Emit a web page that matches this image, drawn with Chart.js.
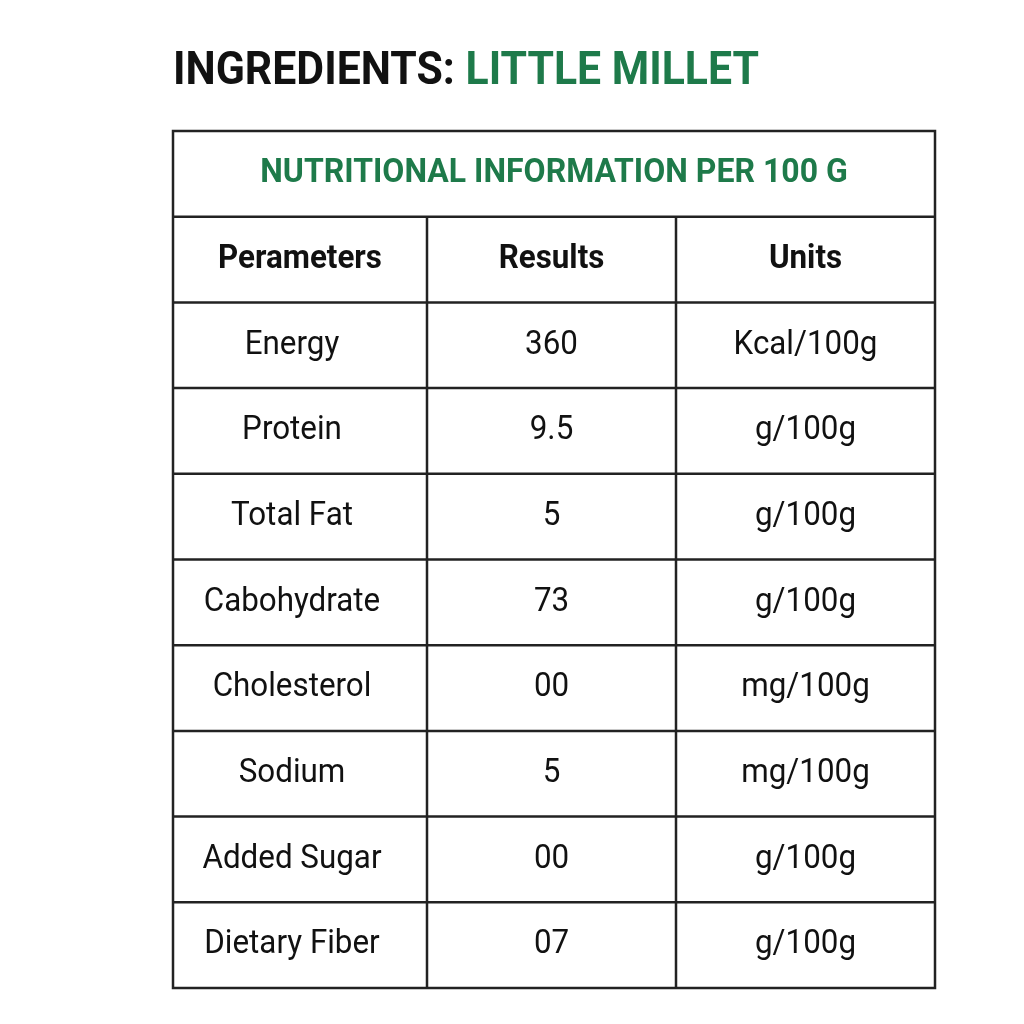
<!DOCTYPE html>
<html><head><meta charset="utf-8">
<script src="https://cdn.jsdelivr.net/npm/chart.js@4.4.0/dist/chart.umd.min.js"></script>
<style>html,body{margin:0;padding:0;background:#fff}canvas{display:block}</style>
</head><body>
<div style="width:1024px;height:1024px"><canvas id="c"></canvas></div>
<script>
const headingBlack = "INGREDIENTS:";
const headingGreen = "LITTLE MILLET";
const tableTitle = "NUTRITIONAL INFORMATION PER 100 G";
const columns = ["Perameters", "Results", "Units"];
const parameters = ["Energy","Protein","Total Fat","Cabohydrate","Cholesterol","Sodium","Added Sugar","Dietary Fiber"];
const results = ["360","9.5","5","73","00","5","00","07"];
const units = ["Kcal/100g","g/100g","g/100g","g/100g","mg/100g","mg/100g","g/100g","g/100g"];
const colEdges = [0, 254, 503, 762];
const GREEN = "#1e7a4a";
const FONT = "'Liberation Sans Narrow', 'Roboto', sans-serif";

function narrowText(ctx, t, x, y, s) {
  ctx.save(); ctx.translate(x, y); ctx.scale(s, 1); ctx.fillText(t, 0, 0); ctx.restore();
}

const tablePlugin = {
  id: 'table',
  afterDraw(chart) {
    const ctx = chart.ctx, xs = chart.scales.x, ys = chart.scales.y;
    const X = v => xs.getPixelForValue(v), Y = v => ys.getPixelForValue(v);
    ctx.save();
    ctx.textBaseline = 'middle'; ctx.textAlign = 'left';
    ctx.font = "bold 46px " + FONT;
    const s = 0.93;
    ctx.fillStyle = "#111";
    narrowText(ctx, headingBlack, X(0), 72, s);
    const w = ctx.measureText(headingBlack + " ").width * s;
    ctx.fillStyle = GREEN;
    narrowText(ctx, headingGreen, X(0) + w, 72, s);
    ctx.strokeStyle = "#222"; ctx.lineWidth = 2.5;
    ctx.strokeRect(X(0), Y(0), X(762) - X(0), Y(10) - Y(0));
    for (let r = 1; r < 10; r++) {
      ctx.beginPath(); ctx.moveTo(X(0), Y(r)); ctx.lineTo(X(762), Y(r)); ctx.stroke();
    }
    for (let c = 1; c < 3; c++) {
      ctx.beginPath(); ctx.moveTo(X(colEdges[c]), Y(1)); ctx.lineTo(X(colEdges[c]), Y(10)); ctx.stroke();
    }
    ctx.textAlign = 'center';
    ctx.fillStyle = GREEN; ctx.font = "bold 33px " + FONT;
    narrowText(ctx, tableTitle, X(381), Y(0.5), 0.97);
    ctx.fillStyle = "#111"; ctx.font = "bold 33px " + FONT;
    columns.forEach((t, c) => narrowText(ctx, t, X((colEdges[c] + colEdges[c+1]) / 2), Y(1.5), 0.95));
    ctx.font = "33px " + FONT;
    const cols = [parameters, results, units];
    cols.forEach((arr, c) => arr.forEach((t, i) =>
      narrowText(ctx, t, X((colEdges[c] + colEdges[c+1]) / 2) - (c === 0 ? 8 : 0), Y(2.5 + i), 0.95)));
    ctx.restore();
  }
};

new Chart(document.getElementById('c'), {
  type: 'scatter',
  data: { datasets: [{ data: [], pointRadius: 0 }] },
  options: {
    responsive: true, maintainAspectRatio: false, animation: false,
    layout: { padding: { left: 173, right: 89, top: 131, bottom: 36 } },
    plugins: { legend: { display: false }, tooltip: { enabled: false } },
    scales: {
      x: { type: 'linear', min: 0, max: 762, display: false },
      y: { type: 'linear', min: 0, max: 10, reverse: true, display: false }
    }
  },
  plugins: [tablePlugin]
});
</script>
</body></html>
